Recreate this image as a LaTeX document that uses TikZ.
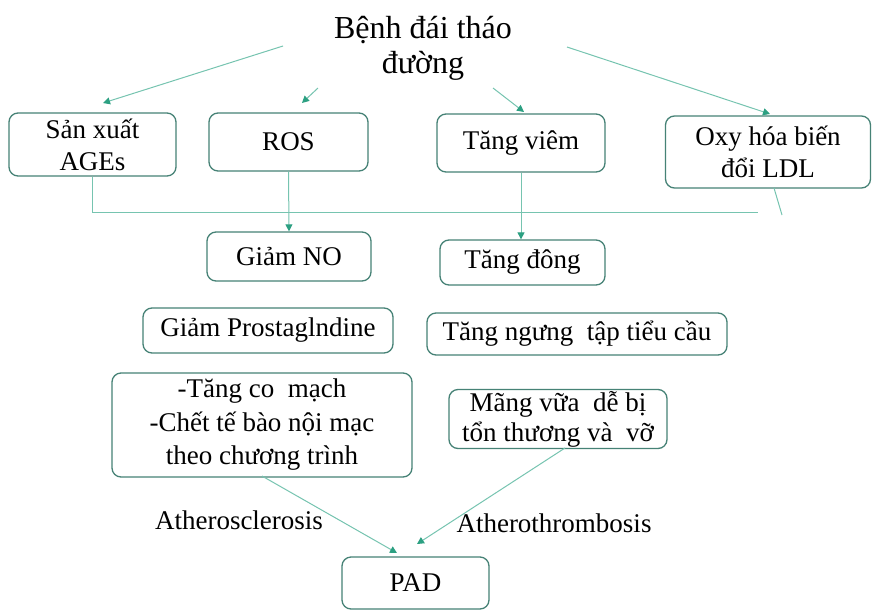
\documentclass[tikz,border=0pt]{standalone}
\usepackage{fontspec}
\setmainfont{Liberation Serif}
\usetikzlibrary{arrows.meta}
\definecolor{boxc}{RGB}{70,130,118}
\definecolor{linec}{RGB}{118,196,176}
\definecolor{tipc}{RGB}{44,160,130}
\begin{document}
\begin{tikzpicture}[x=1pt,y=-1pt,
  bx/.style={draw=boxc,line width=1.3pt,rounded corners=9pt,inner sep=0pt,align=center,
    font=\fontsize{27}{32}\selectfont,text=black},
  conn/.style={draw=linec,line width=1pt},
  arr/.style={conn,-{Triangle[length=7pt,width=7pt,color=tipc]}},
  lbl/.style={font=\fontsize{27}{32}\selectfont,inner sep=0pt}]
\useasboundingbox[fill=white] (0,0) rectangle (873,611);

\node[font=\fontsize{32}{35}\selectfont,align=center,inner sep=0pt] (title) at (423,48) {Bệnh đái tháo\\đường};

\node[bx,minimum width=167pt,minimum height=63pt] (ages) at (92.5,144.5) {Sản xuất\\AGEs};
\node[bx,minimum width=159pt,minimum height=58pt] (ros) at (288.5,142) {ROS};
\node[bx,minimum width=168pt,minimum height=58pt] (viem) at (521,143) {Tăng viêm};
\node[bx,minimum width=205pt,minimum height=72pt] (oxy) at (768,152) {Oxy hóa biến\\đổi LDL};

\node[bx,minimum width=164pt,minimum height=49pt] (no) at (289,256.5) {Giảm NO};
\node[bx,minimum width=165pt,minimum height=45pt] (dong) at (522.5,262.5) {Tăng đông};
\node[bx,minimum width=250pt,minimum height=45pt] (prost) at (268,330.5) {Giảm Prostaglndine};
\node[bx,minimum width=300pt,minimum height=42pt] (ngung) at (577,334) {Tăng ngưng\ \ tập tiểu cầu};
\node[bx,minimum width=300pt,minimum height=104pt,font=\fontsize{27}{33.5}\selectfont] (comach) at (262,425) {-Tăng co\ \ mạch\\-Chết tế bào nội mạc\\theo chương trình};
\node[bx,minimum width=218pt,minimum height=59pt,font=\fontsize{27}{30}\selectfont] (mang) at (558,419) {Mãng vữa\ \ dễ bị\\tổn thương và\ \ vỡ};
\node[bx,minimum width=147pt,minimum height=52pt] (pad) at (415.5,583) {PAD};

\node[lbl] (ath1) at (239,520) {Atherosclerosis};
\node[lbl] (ath2) at (554,523) {Atherothrombosis};

% arrows from the title
\coordinate (s1) at (283,46);  \coordinate (e1) at (103,103);
\coordinate (s2) at (318,88);  \coordinate (e2) at (302,103);
\coordinate (s3) at (493,88);  \coordinate (e3) at (524,112);
\coordinate (s4) at (567,47);  \coordinate (e4) at (770,114);
\draw[arr] (s1) -- (e1);
\draw[arr] (s2) -- (e2);
\draw[arr] (s3) -- (e3);
\draw[arr] (s4) -- (e4);

% bus line
\coordinate (hend) at (758,212);
\draw[conn] (ages.south) |- (hend);
\coordinate (oxs) at (774,188);
\coordinate (oxe) at (782,215);
\draw[conn] (oxs) -- (oxe);

\draw[arr] (ros.south) -- (no.north);
\draw[arr] (viem.south) -- (viem.south |- dong.north);

% to PAD
\coordinate (b1) at (262,476); \coordinate (p1) at (397,553);
\coordinate (b2) at (565,448); \coordinate (p2) at (417,544);
\draw[arr] (b1) -- (p1);
\draw[arr] (b2) -- (p2);
\end{tikzpicture}
\end{document}
